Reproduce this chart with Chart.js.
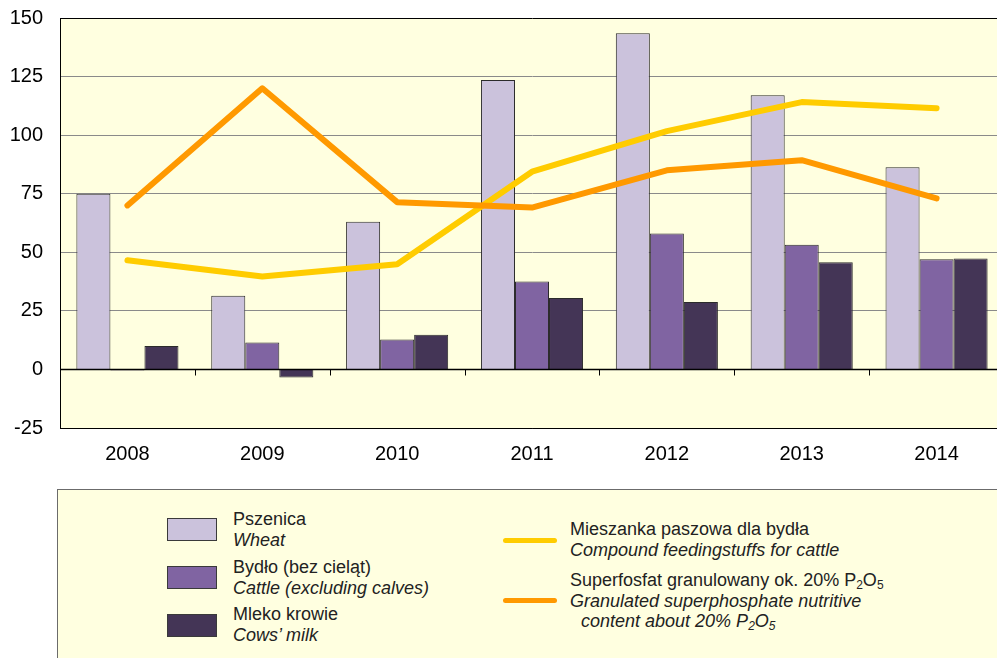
<!DOCTYPE html>
<html>
<head>
<meta charset="utf-8">
<script src="https://cdn.jsdelivr.net/npm/chart.js@4/dist/chart.umd.min.js"></script>
<style>
  html, body { margin: 0; padding: 0; background: #fff; overflow: hidden; width: 997px; height: 658px; }
  #wrap { position: relative; width: 997px; height: 658px; overflow: hidden;
          font-family: "Liberation Sans", Arial, sans-serif; }
  #c { position: absolute; left: 0; top: 0; }
  #legendBox { position: absolute; left: 57px; top: 489px; width: 980px; height: 220px;
               background: #FFFFE0; border: 1px solid #6b6b6b; box-sizing: border-box; }
  .sw { position: absolute; width: 50px; height: 23px; border: 1px solid #3a3a3a; box-sizing: border-box; }
  .ln { position: absolute; width: 54px; height: 5px; border-radius: 3px; }
  .tx { position: absolute; font-size: 18px; line-height: 20.5px; color: #222; white-space: nowrap; }
  .tx i { color: #222; }
  .tx sub { font-size: 12px; vertical-align: -3px; line-height: 0; }
  .indent { padding-left: 11px; }
</style>
</head>
<body>
<div id="wrap">
  <canvas id="c" width="1004" height="480"></canvas>
  <div id="legendBox"></div>
</div>
<script>
// Years on the category axis
const years = ['2008', '2009', '2010', '2011', '2012', '2013', '2014'];

// Price indices (bars)
const wheat  = [75, 31.5, 63, 123.5, 143.5, 117, 86.3];
const cattle = [-0.5, 11.5, 12.8, 37.5, 58, 53.2, 47];
const milk   = [10, -3.4, 14.8, 30.5, 28.8, 45.7, 47.4];

// Price indices (lines)
const feedingstuffs  = [46.6, 39.7, 44.9, 84.4, 101.7, 114.1, 111.5];
const superphosphate = [70, 120, 71.4, 69.1, 85, 89.3, 73];

// Value axis range
const yMin = -25;
const yMax = 150;
const yStep = 25;

// Legend texts: [Polish, English]
const barNames = [
  ['Pszenica', 'Wheat'],
  ['Bydło (bez cieląt)', 'Cattle (excluding calves)'],
  ['Mleko krowie', 'Cows’ milk']
];
const lineNames = [
  ['Mieszanka paszowa dla bydła', 'Compound feedingstuffs for cattle'],
  ['Superfosfat granulowany ok. 20% P<sub>2</sub>O<sub>5</sub>',
   'Granulated superphosphate nutritive',
   'content about 20% P<sub>2</sub>O<sub>5</sub>']
];

const barColors = ['#CBC2DC', '#8064A2', '#443556'];
const lineColors = ['#FFCC00', '#FF9900'];
const FONT = '"Liberation Sans", Arial, sans-serif';

// Light yellow plot background
const plotBackground = {
  id: 'plotBackground',
  beforeDraw(chart) {
    const { ctx, chartArea: a } = chart;
    ctx.save();
    ctx.fillStyle = '#FFFFE0';
    ctx.fillRect(a.left, a.top, a.right - a.left, a.bottom - a.top);
    ctx.restore();
  }
};

// Category axis line at zero with tick marks between the years
const zeroAxis = {
  id: 'zeroAxis',
  afterDatasetsDraw(chart) {
    const { ctx, chartArea: a, scales: { x, y } } = chart;
    const y0 = Math.round(y.getPixelForValue(0)) + 0.5;
    ctx.save();
    ctx.strokeStyle = '#000';
    ctx.lineWidth = 1.5;
    ctx.beginPath();
    ctx.moveTo(a.left, y0);
    ctx.lineTo(a.right, y0);
    ctx.stroke();
    ctx.lineWidth = 1;
    ctx.beginPath();
    for (let i = 0; i < years.length - 1; i++) {
      const xb = Math.round((x.getPixelForValue(i) + x.getPixelForValue(i + 1)) / 2) + 0.5;
      ctx.moveTo(xb, y0);
      ctx.lineTo(xb, y0 + 6);
    }
    ctx.stroke();
    ctx.restore();
  }
};

const barDataset = (label, data, color) => ({
  type: 'bar', label, data,
  backgroundColor: color, borderColor: '#2b2b2b', borderWidth: 1,
  barPercentage: 1, categoryPercentage: 0.757, order: 3
});
const lineDataset = (label, data, color, order) => ({
  type: 'line', label, data,
  borderColor: color, backgroundColor: color, borderWidth: 6,
  pointRadius: 0, tension: 0, borderCapStyle: 'round', borderJoinStyle: 'round',
  fill: false, order
});

new Chart(document.getElementById('c'), {
  data: {
    labels: years,
    datasets: [
      barDataset(barNames[0][0], wheat, barColors[0]),
      barDataset(barNames[1][0], cattle, barColors[1]),
      barDataset(barNames[2][0], milk, barColors[2]),
      lineDataset(lineNames[0][0], feedingstuffs, lineColors[0], 2),
      lineDataset('Superfosfat granulowany ok. 20% P2O5', superphosphate, lineColors[1], 1)
    ]
  },
  options: {
    responsive: false,
    animation: false,
    layout: { padding: { top: 18, left: 0, right: 0, bottom: 0 } },
    plugins: { legend: { display: false }, tooltip: { enabled: false } },
    scales: {
      x: {
        grid: { display: false, drawTicks: false },
        border: { color: '#000', width: 1 },
        ticks: { color: '#000', font: { family: FONT, size: 20 }, padding: 14, maxRotation: 0 },
        afterFit(s) { s.height = 52; s.paddingLeft = 0; s.paddingRight = 0; }
      },
      y: {
        min: yMin, max: yMax,
        grid: {
          drawTicks: false,
          lineWidth: 1,
          color: c => (c.tick && (c.tick.value === yMax || c.tick.value === yMin)) ? '#000' : '#8a8a8a'
        },
        border: { color: '#000', width: 1 },
        ticks: { stepSize: yStep, color: '#000', font: { family: FONT, size: 20 }, padding: 17 },
        afterFit(s) { s.width = 60; s.paddingTop = 0; s.paddingBottom = 0; }
      }
    }
  },
  plugins: [plotBackground, zeroAxis]
});

// Legend entries
const wrap = document.getElementById('wrap');
function add(cls, style, html) {
  const d = document.createElement('div');
  d.className = cls;
  Object.assign(d.style, style);
  if (html) d.innerHTML = html;
  wrap.appendChild(d);
}
const swatchTops = [518, 566, 614];
const barTextTops = [509, 557, 604];
barNames.forEach((n, i) => {
  add('sw', { left: '167px', top: swatchTops[i] + 'px', background: barColors[i] });
  add('tx', { left: '233px', top: barTextTops[i] + 'px' }, n[0] + '<br><i>' + n[1] + '</i>');
});
const lineTops = [538, 598];
const lineTextTops = [519, 570];
lineNames.forEach((n, i) => {
  add('ln', { left: '503px', top: lineTops[i] + 'px', background: lineColors[i] });
  let html = n[0] + '<br><i>' + n[1] + '</i>';
  if (n[2]) html += '<br><i class="indent">' + n[2] + '</i>';
  add('tx', { left: '570px', top: lineTextTops[i] + 'px' }, html);
});
</script>
</body>
</html>
